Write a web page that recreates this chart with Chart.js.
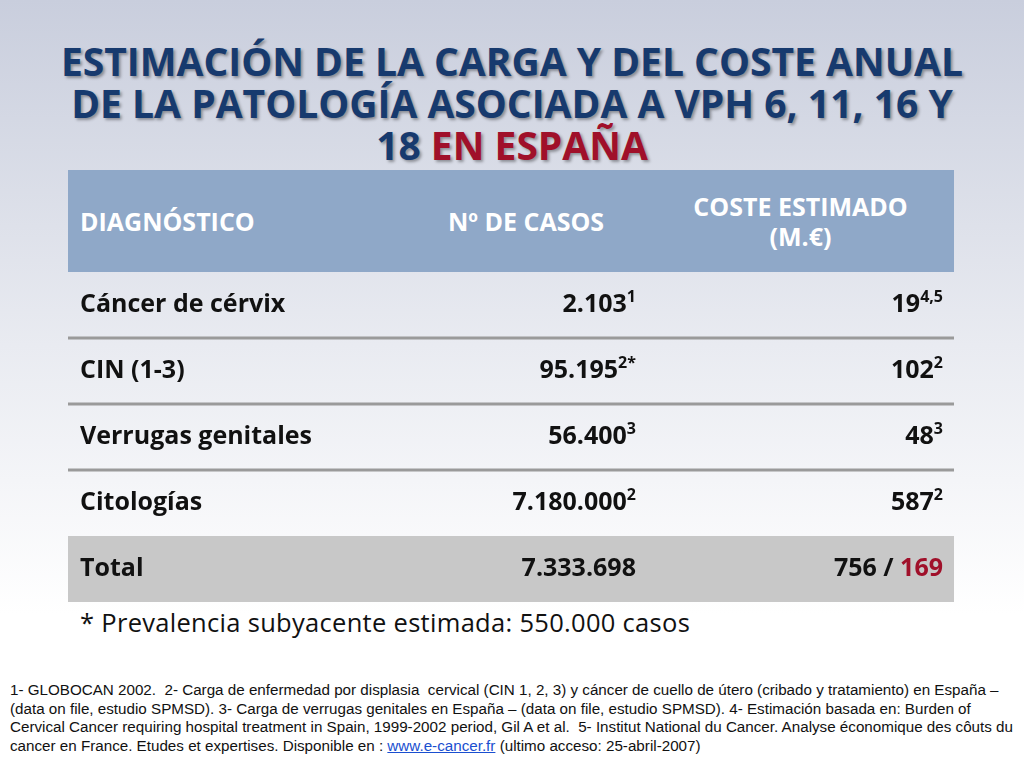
<!DOCTYPE html>
<html>
<head>
<meta charset="utf-8">
<script src="https://cdn.jsdelivr.net/npm/chart.js@4"></script>
<style>
  body { margin: 0; width: 1024px; height: 768px; overflow: hidden;
    background: linear-gradient(#c9cedd 0%, #e9ebf1 45%, #ffffff 80%);
    font-family: "Open Sans", "DejaVu Sans", sans-serif; position: relative; }
  #title { position: absolute; top: 40px; left: 0; width: 1024px; text-align: center;
    font-weight: bold; font-size: 39px; line-height: 42px; color: #173a6e;
    text-shadow: 2px 2px 3px rgba(0,0,0,0.35); }
  #title span { color: #a0102a; }
  #head { position: absolute; top: 170px; left: 68px; width: 886px; height: 102px;
    background: #8fa8c8; color: #fff; font-weight: bold; font-size: 25px; }
  #head div { position: absolute; top: 0; height: 102px; display: flex; align-items: center; }
  #wrap { position: absolute; top: 272px; left: 68px; width: 886px; height: 330px; }
  #note { position: absolute; top: 605px; left: 80px; font-size: 25.5px; color: #111; letter-spacing: 0.3px; }
  #foot { position: absolute; top: 681px; left: 10px; width: 1010px; font-family: "Liberation Sans", Arial, sans-serif;
    font-size: 15.2px; line-height: 18.5px; color: #111; }
  #foot a { color: #1a4fd0; }
</style>
</head>
<body>
<div id="title">ESTIMACIÓN DE LA CARGA Y DEL COSTE ANUAL<br>DE LA PATOLOGÍA ASOCIADA A VPH 6, 11, 16 Y<br>18 <span>EN ESPAÑA</span></div>
<div id="head">
  <div style="left:12px">DIAGNÓSTICO</div>
  <div style="left:337px;width:242px;justify-content:center">Nº DE CASOS</div>
  <div style="left:579px;width:307px;justify-content:center;text-align:center;line-height:30px">COSTE ESTIMADO<br>(M.€)</div>
</div>
<div id="wrap"><canvas id="tableChart"></canvas></div>
<div id="note">* Prevalencia subyacente estimada: 550.000 casos</div>
<div id="foot">1- GLOBOCAN 2002.&nbsp; 2- Carga de enfermedad por displasia&nbsp; cervical (CIN 1, 2, 3) y cáncer de cuello de útero (cribado y tratamiento) en España – (data on file, estudio SPMSD). 3- Carga de verrugas genitales en España – (data on file, estudio SPMSD). 4- Estimación basada en: Burden of Cervical Cancer requiring hospital treatment in Spain, 1999-2002 period, Gil A et al.&nbsp; 5- Institut National du Cancer. Analyse économique des côuts du cancer en France. Etudes et expertises. Disponible en : <a href="#">www.e-cancer.fr</a> (ultimo acceso: 25-abril-2007)</div>
<script>
const diagnoses = ["Cáncer de cérvix", "CIN (1-3)", "Verrugas genitales", "Citologías", "Total"];
const cases = ["2.103", "95.195", "56.400", "7.180.000", "7.333.698"];
const casesSup = ["1", "2*", "3", "2", ""];
const costs = ["19", "102", "48", "587", "756 / "];
const costSup = ["4,5", "2", "3", "2", ""];
const totalExtra = "169";

function drawRight(ctx, x, y, main, sup, extra) {
  ctx.textBaseline = "middle";
  ctx.textAlign = "right";
  let right = x;
  if (extra) {
    ctx.font = "bold 25px 'Open Sans', sans-serif";
    ctx.fillStyle = "#a0102a";
    ctx.fillText(extra, right, y);
    right -= ctx.measureText(extra).width;
  }
  if (sup) {
    ctx.font = "bold 16px 'Open Sans', sans-serif";
    ctx.fillStyle = "#111";
    ctx.fillText(sup, right, y - 8);
    right -= ctx.measureText(sup).width;
  }
  ctx.font = "bold 25px 'Open Sans', sans-serif";
  ctx.fillStyle = "#111";
  ctx.fillText(main, right, y);
}

const tablePlugin = {
  id: "tablePlugin",
  afterDraw(chart) {
    const ctx = chart.ctx;
    const area = chart.chartArea;
    const yScale = chart.scales.y;
    const band = yScale.height / diagnoses.length;
    const col2 = area.left + area.width * 0.641;
    const col3 = area.right - 11;
    ctx.save();
    diagnoses.forEach((d, i) => {
      const yc = yScale.getPixelForValue(i);
      if (i === diagnoses.length - 1) {
        ctx.fillStyle = "#c8c8c8";
        ctx.fillRect(area.left, yc - band / 2, area.width, band);
      } else if (i > 0) {
        ctx.fillStyle = "#9a9a9a";
        ctx.fillRect(area.left, yc - band / 2 - 1.5, area.width, 3);
      }
      ctx.font = "bold 25px 'Open Sans', sans-serif";
      ctx.fillStyle = "#111";
      ctx.textAlign = "left";
      ctx.textBaseline = "middle";
      ctx.fillText(d, area.left + 12, yc);
      drawRight(ctx, col2, yc, cases[i], casesSup[i]);
      drawRight(ctx, col3, yc, costs[i], costSup[i], i === diagnoses.length - 1 ? totalExtra : "");
    });
    ctx.restore();
  }
};

new Chart(document.getElementById("tableChart"), {
  type: "bar",
  data: {
    labels: diagnoses,
    datasets: [{ data: diagnoses.map(() => 0), backgroundColor: "transparent" }]
  },
  options: {
    indexAxis: "y",
    responsive: true,
    maintainAspectRatio: false,
    animation: false,
    layout: { padding: 0 },
    plugins: { legend: { display: false }, tooltip: { enabled: false } },
    scales: { x: { display: false }, y: { display: false } }
  },
  plugins: [tablePlugin]
});
</script>
</body>
</html>
